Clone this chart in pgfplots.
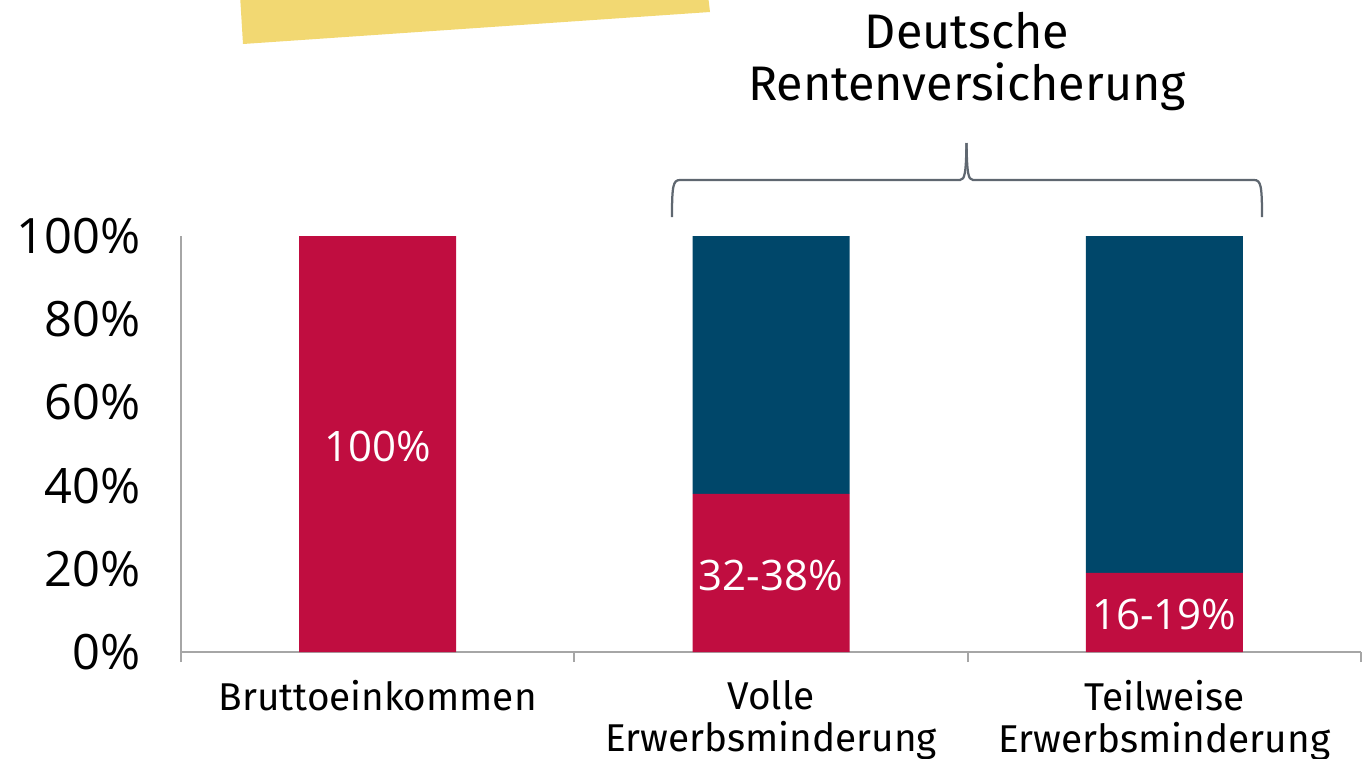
\documentclass[border=0pt]{standalone}
\usepackage{fontspec}
\setmainfont{Open Sans}
\newfontfamily\catfont{Fira Sans}
\usepackage{pgfplots}
\pgfplotsset{compat=1.18}
\definecolor{dred}{HTML}{C00D40}
\definecolor{dblue}{HTML}{00476A}
\definecolor{ylw}{HTML}{F2D872}
\definecolor{axgrey}{HTML}{A6A6A6}
\definecolor{brgrey}{HTML}{5F6770}
\begin{document}
\begin{tikzpicture}
\useasboundingbox (0,0) rectangle (547.6pt,-303.2pt);
\clip (0,0) rectangle (547.6pt,-303.2pt);
\begin{scope}[x=0.4pt,y=-0.4pt]
\fill[ylw] (240,-5) -- (243,44) -- (710,12) -- (708,-5) -- cycle;
\draw[brgrey, line width=0.9pt] (672,217) .. controls (672,186) and (673,180) .. (680,180) -- (960,180) .. controls (965,180) and (966,172) .. (966.5,143);
\draw[brgrey, line width=0.9pt] (1262,217) .. controls (1262,186) and (1261,180) .. (1254,180) -- (973,180) .. controls (968,180) and (967,172) .. (966.5,143);
\node[anchor=base, inner sep=0, font=\catfont\fontsize{19.4}{21}\selectfont] at (967,48) {Deutsche};
\node[anchor=base, inner sep=0, font=\catfont\fontsize{19.4}{21}\selectfont] at (967,100) {Rentenversicherung};
\end{scope}
\begin{axis}[
  at={(72.4pt,-260.8pt)}, anchor=south west,
  scale only axis, width=472pt, height=166.4pt,
  ybar stacked, bar width=62.8pt,
  xmin=-0.5, xmax=2.5, ymin=0, ymax=100,
  axis x line=bottom, axis y line=left,
  axis line style={-, draw=axgrey, line width=0.8pt},
  xtick={0,1,2},
  xticklabels={Bruttoeinkommen, Volle\\Erwerbsminderung, Teilweise\\Erwerbsminderung},
  minor xtick={-0.5,0.5,1.5,2.5},
  major tick length=0pt, minor tick length=4pt, tick align=outside,
  minor tick style={draw=axgrey, line width=0.8pt},
  major tick style={draw=none},
  ytick={0,20,40,60,80,100},
  yticklabels={0\%,20\%,40\%,60\%,80\%,100\%},
  yticklabel style={anchor=east, inner sep=0pt, xshift=-16pt, font=\fontsize{19.5}{20}\selectfont},
  xticklabel style={anchor=north, inner sep=0pt, yshift=-11pt, align=center, font=\catfont\fontsize{15.5}{17}\selectfont},
  clip=false,
]
\addplot[fill=dred, draw=none] coordinates {(0,100) (1,38) (2,19)};
\addplot[fill=dblue, draw=none] coordinates {(0,0) (1,62) (2,81)};
\coordinate (l0) at (axis cs:0,49.5);
\coordinate (l1) at (axis cs:1,18.3);
\coordinate (l2) at (axis cs:2,9.1);
\end{axis}
\node[text=white, font=\fontsize{16.8}{20}\selectfont] at (l0) {100\%};
\node[text=white, font=\fontsize{16.8}{20}\selectfont] at (l1) {32-38\%};
\node[text=white, font=\fontsize{16.8}{20}\selectfont] at (l2) {16-19\%};
\end{tikzpicture}
\end{document}
